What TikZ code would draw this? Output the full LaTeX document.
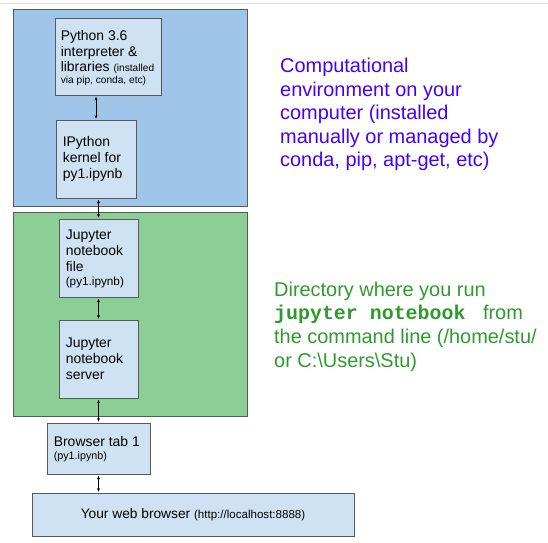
\documentclass[tikz,border=0pt]{standalone}
\usepackage{fontspec}
\setmainfont{Liberation Sans}
\setmonofont{Liberation Mono}
\usetikzlibrary{arrows.meta}
\definecolor{outerblue}{HTML}{9FC5E8}
\definecolor{outergreen}{HTML}{8CCF96}
\definecolor{innerblue}{HTML}{CFE2F3}
\definecolor{edgegray}{HTML}{595959}
\definecolor{txtblue}{HTML}{4400FF}
\definecolor{txtgreen}{HTML}{2E9A2E}
\definecolor{topline}{HTML}{E3E3E3}
\newcommand{\smalltxt}[1]{\fontsize{#1}{11.5}\selectfont}
\tikzset{
  outerbox/.style={draw=edgegray, line width=1bp, inner sep=0pt},
  innerbox/.style={draw=edgegray, fill=innerblue, line width=0.8bp, inner sep=0pt},
  boxtext/.style={inner sep=0pt, align=left, anchor=west, font=\fontsize{14}{16}\selectfont},
  sidetext/.style={inner sep=0pt, align=left, anchor=base west, font=\fontsize{20}{23.6}\selectfont},
  link/.style={{Stealth[length=3.5bp,width=3bp]}-{Stealth[length=3.5bp,width=3bp]}, line width=0.7bp, shorten <=1.5bp, shorten >=1bp}
}
\begin{document}
\begin{tikzpicture}[x=1bp,y=-1bp]
\useasboundingbox (0,0) rectangle (548,543);
\coordinate (tl) at (0,4);
\coordinate (tr) at (548,4);
\draw[topline, line width=1bp] (tl) -- (tr);
% outer regions
\node[outerbox, fill=outerblue, minimum width=233bp, minimum height=196bp] (env) at (130.5,108) {};
\node[outerbox, fill=outergreen, minimum width=233bp, minimum height=203bp] (dir) at (130.5,314.5) {};
% inner boxes
\node[innerbox, minimum width=106bp, minimum height=77bp] (py) at (108,56.5) {};
\node[innerbox, minimum width=80bp, minimum height=78bp] (ipy) at (96,159) {};
\node[innerbox, minimum width=79bp, minimum height=78bp] (file) at (98.5,258) {};
\node[innerbox, minimum width=79bp, minimum height=78bp] (server) at (98.5,359) {};
\node[innerbox, minimum width=103bp, minimum height=51bp] (tab) at (98.5,448.5) {};
\node[innerbox, minimum width=322bp, minimum height=43bp, font=\fontsize{13.8}{16}\selectfont] (web) at (193,514.5) {Your web browser {\smalltxt{11.6}(http://localhost:8888)}};
% box texts
\node[boxtext] (pyt) at ([xshift=6bp,yshift=-1.5bp]py.west) {Python 3.6\\interpreter \&\\libraries {\smalltxt{10.2}(installed}\\[-4bp]{\smalltxt{10.2}via pip, conda, etc)}};
\node[boxtext] (ipyt) at ([xshift=7bp]ipy.west) {IPython\\kernel for\\py1.ipynb};
\node[boxtext] (filet) at ([xshift=7bp,yshift=-1bp]file.west) {Jupyter\\notebook\\file\\[-1bp]{\smalltxt{11.8}(py1.ipynb)}};
\node[boxtext] (servert) at ([xshift=7bp]server.west) {Jupyter\\notebook\\server};
\node[boxtext] (tabt) at ([xshift=7bp,yshift=-1bp]tab.west) {Browser tab 1\\[-3bp]{\smalltxt{10.8}(py1.ipynb)}};
% connectors
\draw[link] (py.south -| ipy.north) -- (ipy.north);
\draw[link] (ipy.south -| file.north) -- (file.north);
\draw[link] (file.south) -- (server.north);
\draw[link] (server.south) -- (tab.north);
\draw[link] (tab.south) -- (tab.south |- web.north);
% side texts (base anchor = last line baseline)
\node[sidetext, text=txtblue] (envt) at (280,166.8) {Computational\\environment on your\\computer (installed\\manually or managed by\\conda, pip, apt-get, etc)};
\node[sidetext, text=txtgreen] (dirt) at (274,367) {Directory where you run\\{\fontsize{20}{23.6}\ttfamily\bfseries jupyter notebook\ } from\\the command line (/home/stu/\\or C:\textbackslash Users\textbackslash Stu)};
\end{tikzpicture}
\end{document}
